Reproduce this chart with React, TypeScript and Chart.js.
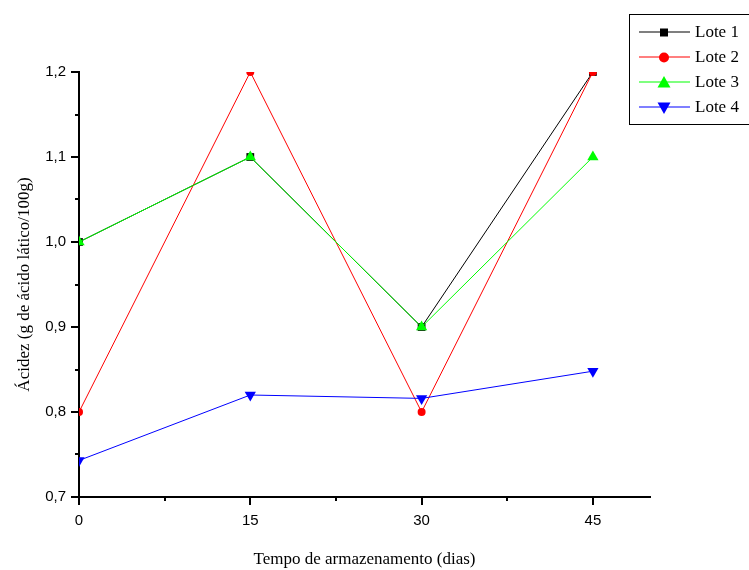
import React, { useEffect, useRef } from 'react';
import { Chart, registerables } from 'chart.js';

Chart.register(...registerables);

const days = [0, 15, 30, 45];
const lote1 = [1.0, 1.1, 0.9, 1.2];
const lote2 = [0.8, 1.2, 0.8, 1.2];
const lote3 = [1.0, 1.1, 0.9, 1.1];
const lote4 = [0.743, 0.82, 0.816, 0.848];

const seriesNames = ['Lote 1', 'Lote 2', 'Lote 3', 'Lote 4'];
const seriesColors = ['#000000', '#ff0000', '#00ff00', '#0000ff'];
const xMinorTicks = [7.5, 22.5, 37.5];
const yMinorTicks = [0.75, 0.85, 0.95, 1.05, 1.15];

const xTitle = 'Tempo de armazenamento (dias)';
const yTitle = 'Ácidez (g de ácido lático/100g)';

const minorTicksPlugin = {
  id: 'minorTicks',
  afterDraw(chart: any) {
    const ctx = chart.ctx;
    const xs = chart.scales.x;
    const ys = chart.scales.y;
    const area = chart.chartArea;
    ctx.save();
    ctx.strokeStyle = '#000';
    ctx.lineWidth = 2;
    ctx.beginPath();
    for (const v of xMinorTicks) {
      const px = Math.round(xs.getPixelForValue(v));
      ctx.moveTo(px, area.bottom);
      ctx.lineTo(px, area.bottom + 4);
    }
    for (const v of yMinorTicks) {
      const py = Math.round(ys.getPixelForValue(v));
      ctx.moveTo(area.left - 4, py);
      ctx.lineTo(area.left, py);
    }
    ctx.stroke();
    ctx.restore();
  },
};

function drawMarker(ctx: CanvasRenderingContext2D, kind: number, x: number, y: number) {
  ctx.beginPath();
  if (kind === 0) {
    ctx.rect(x - 4, y - 4, 8, 8);
  } else if (kind === 1) {
    ctx.arc(x, y, 5, 0, Math.PI * 2);
  } else if (kind === 2) {
    ctx.moveTo(x, y - 6.5);
    ctx.lineTo(x + 6.5, y + 5);
    ctx.lineTo(x - 6.5, y + 5);
    ctx.closePath();
  } else {
    ctx.moveTo(x, y + 6.5);
    ctx.lineTo(x + 6.5, y - 5);
    ctx.lineTo(x - 6.5, y - 5);
    ctx.closePath();
  }
  ctx.fill();
}

const legendPlugin = {
  id: 'customLegend',
  afterDraw(chart: any) {
    const ctx: CanvasRenderingContext2D = chart.ctx;
    ctx.save();
    ctx.strokeStyle = '#000';
    ctx.lineWidth = 1;
    ctx.strokeRect(629.5, 14.5, 130, 110);
    ctx.font = '17px "Liberation Serif", "Times New Roman", serif';
    ctx.textBaseline = 'middle';
    ctx.textAlign = 'left';
    seriesNames.forEach((name, i) => {
      const y = 32 + i * 25;
      ctx.strokeStyle = seriesColors[i];
      ctx.lineWidth = 1.2;
      ctx.beginPath();
      ctx.moveTo(639, y);
      ctx.lineTo(690, y);
      ctx.stroke();
      ctx.fillStyle = seriesColors[i];
      drawMarker(ctx, i, 664, y + 0.5);
      ctx.fillStyle = '#000';
      ctx.fillText(name, 695, y + 1);
    });
    ctx.restore();
  },
};

const pointStyles = ['rect', 'circle', 'triangle', 'triangle'];
const pointRadii = [5.5, 4, 6.5, 6.5];
const pointRotations = [0, 0, 0, 180];
const seriesValues = [lote1, lote2, lote3, lote4];

export default function App() {
  const ref = useRef<HTMLCanvasElement | null>(null);

  useEffect(() => {
    if (!ref.current) return;
    const datasets = seriesValues.map((vals, i) => ({
      label: seriesNames[i],
      data: days.map((d, j) => ({ x: d, y: vals[j] })),
      borderColor: seriesColors[i],
      backgroundColor: seriesColors[i],
      borderWidth: 1,
      pointStyle: pointStyles[i],
      pointRadius: pointRadii[i],
      pointRotation: pointRotations[i],
      pointBackgroundColor: seriesColors[i],
      pointBorderColor: seriesColors[i],
      pointBorderWidth: 0,
      tension: 0,
      order: 3 - i,
    }));
    const chart = new Chart(ref.current, {
      type: 'line',
      data: { datasets },
      plugins: [minorTicksPlugin, legendPlugin],
      options: {
        responsive: false,
        animation: false,
        layout: { padding: { left: 0, top: 72, right: 99, bottom: 0 } },
        plugins: { legend: { display: false }, tooltip: { enabled: false } },
        scales: {
          x: {
            type: 'linear',
            min: 0,
            max: 50,
            afterFit: (s: any) => { s.height = 73; },
            ticks: {
              stepSize: 15,
              includeBounds: false,
              color: '#000',
              padding: 7,
              maxRotation: 0,
              font: { family: '"Liberation Sans", Arial, sans-serif', size: 15 },
              callback: (v: any) => String(v),
            },
            grid: { display: true, drawOnChartArea: false, drawTicks: true, tickLength: 8, color: '#000', lineWidth: 2 },
            border: { display: true, color: '#000', width: 2 },
            title: {
              display: true,
              text: xTitle,
              color: '#000',
              padding: { top: 0, bottom: 0 },
              font: { family: '"Liberation Serif", "Times New Roman", serif', size: 17 },
            },
          },
          y: {
            type: 'linear',
            min: 0.7,
            max: 1.2,
            afterFit: (s: any) => { s.width = 79; },
            ticks: {
              stepSize: 0.1,
              includeBounds: false,
              color: '#000',
              padding: 5,
              font: { family: '"Liberation Sans", Arial, sans-serif', size: 15 },
              callback: (v: any) => Number(v).toFixed(1).replace('.', ','),
            },
            grid: { display: true, drawOnChartArea: false, drawTicks: true, tickLength: 8, color: '#000', lineWidth: 2 },
            border: { display: true, color: '#000', width: 2 },
            title: {
              display: true,
              text: yTitle,
              color: '#000',
              padding: { top: 14, bottom: 0 },
              font: { family: '"Liberation Serif", "Times New Roman", serif', size: 17 },
            },
          },
        },
      },
    } as any);
    return () => chart.destroy();
  }, []);

  return (
    <div style={{ position: 'absolute', left: 0, top: 0, width: 749, height: 570, background: '#fff' }}>
      <canvas ref={ref} width={749} height={570} style={{ display: 'block', width: 749, height: 570 }} />
    </div>
  );
}
